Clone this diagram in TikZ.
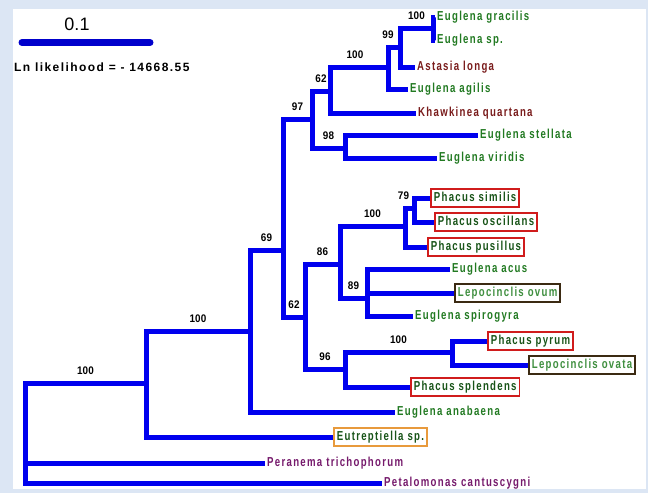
\documentclass[tikz,border=0pt]{standalone}
\usepackage{fontspec}
\setmainfont{Liberation Sans}
\newfontfamily\leaffont[FakeStretch=0.74,LetterSpace=10]{Liberation Sans}
\newfontfamily\supfont[FakeStretch=0.9]{Liberation Sans}
\newfontfamily\likefont[LetterSpace=12]{Liberation Sans}
\definecolor{framebg}{HTML}{DCE6F4}
\definecolor{treeblue}{HTML}{0000EE}
\definecolor{scaleblue}{HTML}{0000CC}
\definecolor{eugreen}{HTML}{227A22}
\definecolor{phacgreen}{HTML}{185418}
\definecolor{lepogreen}{HTML}{3F8F3F}
\definecolor{maroon}{HTML}{7A1C1C}
\definecolor{peripurple}{HTML}{761A6C}
\definecolor{boxred}{HTML}{D01C1C}
\definecolor{boxbrown}{HTML}{3B2A12}
\definecolor{boxorange}{HTML}{E89A3C}
\usetikzlibrary{positioning}

\begin{document}
\begin{tikzpicture}[x=1pt, y=-1pt,
	branch/.style={draw=treeblue, line width=5pt, line join=miter},
	leaf/.style={anchor=west, inner xsep=2pt, inner ysep=3pt, text height=9.5pt, text depth=2.7pt,
		font=\leaffont\bfseries\fontsize{13}{13}\selectfont},
	eug/.style={leaf, text=eugreen},
	ast/.style={leaf, text=maroon},
	peri/.style={leaf, text=peripurple},
	boxed/.style={leaf, draw, fill=white, line width=1.8pt, inner xsep=3pt},
	phacus/.style={boxed, draw=boxred, text=phacgreen},
	lepo/.style={boxed, draw=boxbrown, text=lepogreen},
	eutre/.style={boxed, draw=boxorange, text=phacgreen},
	boot/.style={pos=0.75, above=5pt, inner sep=1pt, font=\supfont\bfseries\fontsize{11}{11}\selectfont}]
	\useasboundingbox (0,0) rectangle (648,493);
	\fill[framebg] (0,0) rectangle (648,493);
	\fill[white] (13,9) rectangle (646,489);
	
	\coordinate (bar1) at (22,42.5);
	\coordinate (bar2) at (150,42.5);
	\draw[draw=scaleblue, line width=7pt, line cap=round] (bar1) -- (bar2);
	\node[font=\fontsize{18}{18}\selectfont, inner sep=0pt] (scale) at (77,24) {0.1};
	\node[anchor=west, inner sep=0pt, font=\likefont\bfseries\fontsize{12}{12}\selectfont] (lnl) at (14,67) {Ln likelihood = - 14668.55};
	
	\node[eug]    (gracilis)     at (435,17)  {Euglena gracilis};
	\node[eug]    (eusp)         at (435,40)  {Euglena sp.};
	\node[ast]    (astasia)      at (415,67)  {Astasia longa};
	\node[eug]    (agilis)       at (408,89)  {Euglena agilis};
	\node[ast]    (khawkinea)    at (416,113) {Khawkinea quartana};
	\node[eug]    (stellata)     at (478,135) {Euglena stellata};
	\node[eug]    (viridis)      at (437,158) {Euglena viridis};
	\node[phacus] (similis)      at (430,198) {Phacus similis};
	\node[phacus] (oscillans)    at (434,222) {Phacus oscillans};
	\node[phacus] (pusillus)     at (427,247) {Phacus pusillus};
	\node[eug]    (acus)         at (450,269) {Euglena acus};
	\node[lepo]   (ovum)         at (454,293) {Lepocinclis ovum};
	\node[eug]    (spirogyra)    at (413,316) {Euglena spirogyra};
	\node[phacus] (pyrum)        at (487,341) {Phacus pyrum};
	\node[lepo]   (ovata)        at (528,365) {Lepocinclis ovata};
	\node[phacus] (splendens)    at (410,387) {Phacus splendens};
	\node[eug]    (anabaena)     at (395,412) {Euglena anabaena};
	\node[eutre]  (eutreptiella) at (333,437) {Eutreptiella sp.};
	\node[peri]   (peranema)     at (265,463) {Peranema trichophorum};
	\node[peri]   (petalomonas)  at (382,483) {Petalomonas cantuscygni};
	
	\coordinate (root) at (25,433);
	\coordinate (nA) at (146,383);
	\coordinate (nB) at (250,331);
	\coordinate (nC) at (283,250);
	\coordinate (nD) at (312,119);
	\coordinate (nL) at (330,91);
	\coordinate (nN) at (388,67);
	\coordinate (nO) at (400,47);
	\coordinate (nP) at (433,28);
	\coordinate (nM) at (345,148);
	\coordinate (nE) at (305,317);
	\coordinate (nF) at (340,264);
	\coordinate (nH) at (405,226);
	\coordinate (nK) at (414,208);
	\coordinate (nI) at (367,298);
	\coordinate (nG) at (345,369);
	\coordinate (nJ) at (452,352);
	
	\draw[branch] (root) |- node[boot] {100} (nA) (root) |- (peranema.west) (root) |- (petalomonas.west);
	\draw[branch] (nA) |- node[boot] {100} (nB) (nA) |- (eutreptiella.west);
	\draw[branch] (nB) |- node[boot] {69} (nC) (nB) |- (anabaena.west);
	\draw[branch] (nC) |- node[boot] {97} (nD) (nC) |- node[boot] {62} (nE);
	\draw[branch] (nD) |- node[boot] {62} (nL) (nD) |- node[boot] {98} (nM);
	\draw[branch] (nL) |- node[boot, xshift=-4pt] {100} (nN) (nL) |- (khawkinea.west);
	\draw[branch] (nN) |- node[boot, xshift=-6pt] {99} (nO) (nN) |- (agilis.west);
	\draw[branch] (nO) |- node[boot] {100} (nP) (nO) |- (astasia.west);
	\draw[branch] (nP) |- (gracilis.west) (nP) |- (eusp.west);
	\draw[branch] (nM) |- (stellata.west) (nM) |- (viridis.west);
	\draw[branch] (nE) |- node[boot] {86} (nF) (nE) |- node[boot] {96} (nG);
	\draw[branch] (nF) |- node[boot] {100} (nH) (nF) |- node[boot] {89} (nI);
	\draw[branch] (nH) |- node[boot, xshift=-6pt] {79} (nK) (nH) |- (pusillus.west);
	\draw[branch] (nK) |- (similis.west) (nK) |- (oscillans.west);
	\draw[branch] (nI) |- (acus.west) (nI) |- (ovum.west) (nI) |- (spirogyra.west);
	\draw[branch] (nG) |- node[boot] {100} (nJ) (nG) |- (splendens.west);
	\draw[branch] (nJ) |- (pyrum.west) (nJ) |- (ovata.west);
\end{tikzpicture}
\end{document}
